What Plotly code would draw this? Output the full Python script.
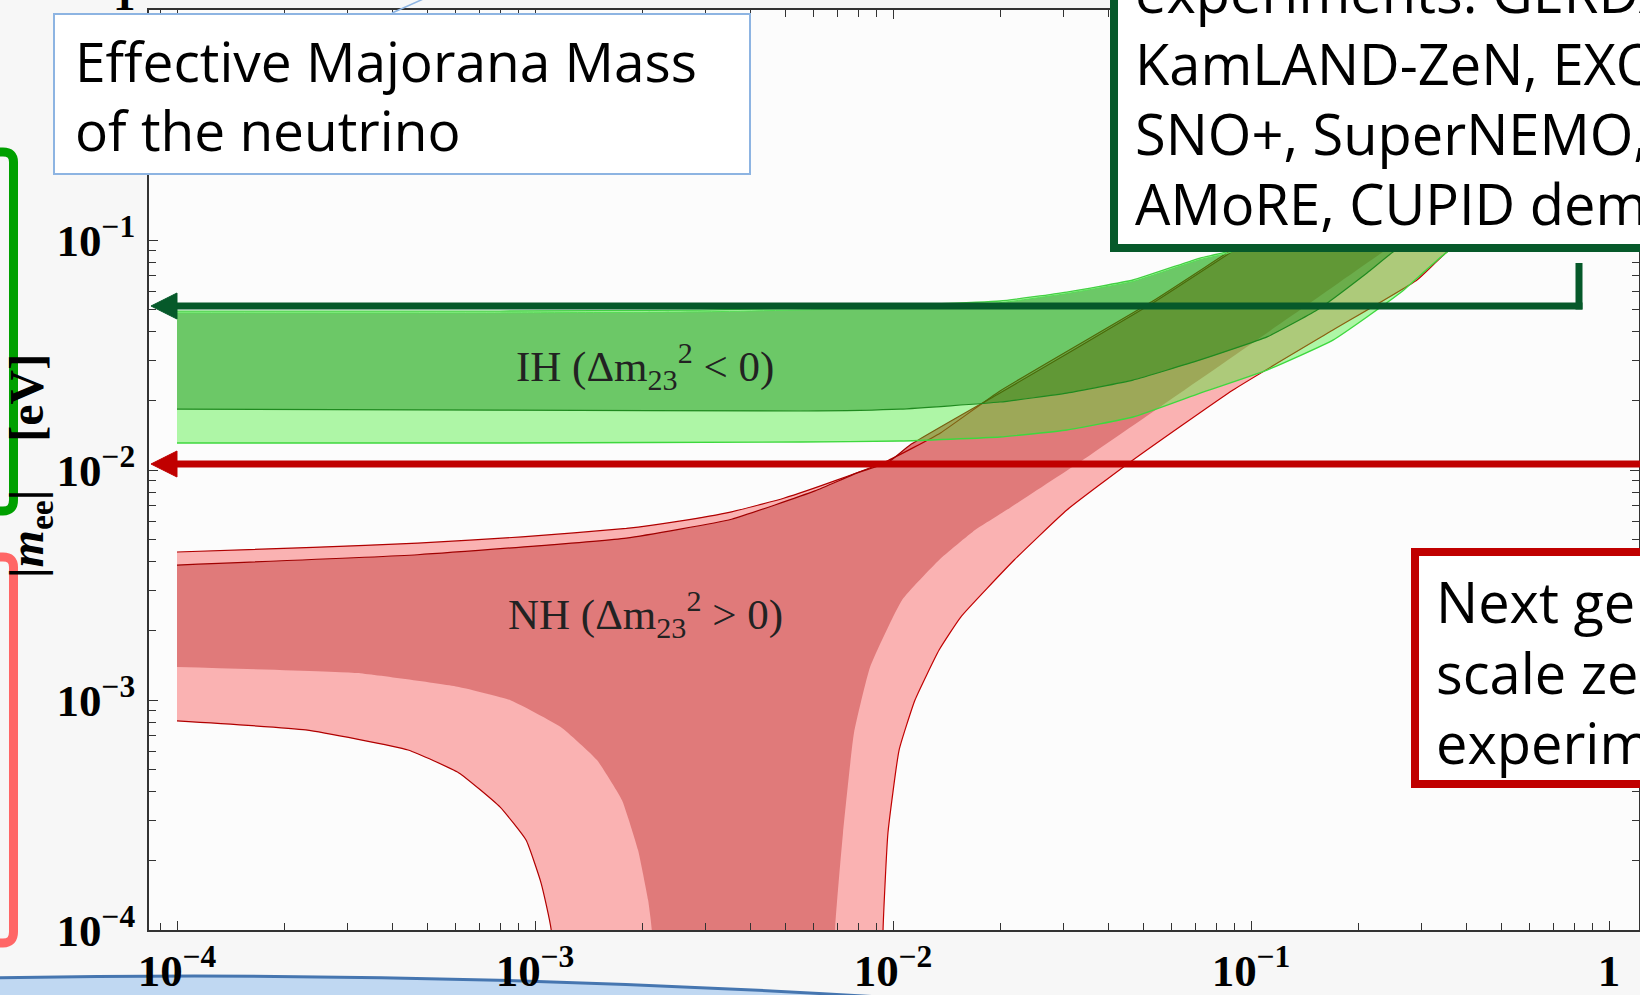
import plotly.graph_objects as go

# ---------------- data (lightest mass m [eV] vs |m_ee| [eV]) ----------------
# Normal hierarchy, outer (light) band
nh_light_upper_m   = [1.0e-4, 2.40e-4, 4.70e-4, 9.2e-4, 1.80e-3, 2.53e-3, 3.54e-3, 4.95e-3, 6.93e-3, 9.69e-3,
                      1.357e-2, 1.99e-2, 5.32e-2, 8.91e-2, 1.3]
nh_light_upper_mee = [4.40e-3, 4.61e-3, 4.81e-3, 5.12e-3, 5.57e-3, 5.99e-3, 6.58e-3, 7.54e-3, 9.01e-3, 1.10e-2,
                      1.45e-2, 2.206e-2, 5.43e-2, 9.14e-2, 1.3]
nh_light_lowL_m    = [1.0e-4, 2.29e-4, 4.42e-4, 6.13e-4, 7.98e-4, 9.44e-4, 1.04e-3, 1.11e-3, 1.13e-3]
nh_light_lowL_mee  = [8.11e-4, 7.41e-4, 6.06e-4, 4.82e-4, 3.43e-4, 2.46e-4, 1.60e-4, 1.0e-4, 1.0e-5]
nh_light_lowR_m    = [9.30e-3, 9.38e-3, 9.68e-3, 1.04e-2, 1.152e-2, 1.345e-2, 1.548e-2, 2.18e-2, 3.06e-2,
                      4.68e-2, 8.91e-2, 1.694e-1, 2.909e-1, 3.527e-1, 1.3]
nh_light_lowR_mee  = [1.0e-5, 1.0e-4, 2.64e-4, 6.06e-4, 1.0e-3, 1.65e-3, 2.30e-3, 4.06e-3, 6.70e-3,
                      1.105e-2, 2.228e-2, 4.06e-2, 6.70e-2, 8.86e-2, 0.32]
# Normal hierarchy, inner (dark) band
nh_dark_upper_m    = [1.0e-4, 4.70e-4, 1.80e-3, 3.54e-3, 6.05e-3, 7.92e-3, 9.69e-3, 1.116e-2, 1.99e-2, 5.32e-2,
                      8.91e-2, 1.3]
nh_dark_upper_mee  = [3.86e-3, 4.28e-3, 5.06e-3, 6.11e-3, 8.11e-3, 9.69e-3, 1.08e-2, 1.284e-2, 2.162e-2, 5.32e-2,
                      8.96e-2, 1.29]
nh_dark_lowL_m     = [1.0e-4, 3.18e-4, 6.13e-4, 8.51e-4, 1.18e-3, 1.49e-3, 1.75e-3, 1.94e-3, 2.07e-3, 2.12e-3, 2.14e-3]
nh_dark_lowL_mee   = [1.39e-3, 1.31e-3, 1.14e-3, 1.0e-3, 7.63e-4, 5.48e-4, 3.67e-4, 2.23e-4, 1.35e-4, 1.0e-4, 1.0e-5]
nh_dark_lowR_m     = [6.85e-3, 6.89e-3, 7.25e-3, 7.78e-3, 8.63e-3, 1.06e-2, 1.345e-2, 1.695e-2, 2.12e-2, 3.39e-2,
                      1.37e-1, 2.337e-1, 1.3]
nh_dark_lowR_mee   = [1.0e-5, 1.0e-4, 2.64e-4, 7.18e-4, 1.39e-3, 2.72e-3, 4.06e-3, 5.48e-3, 6.84e-3, 1.105e-2,
                      4.96e-2, 8.86e-2, 0.48]
# Inverted hierarchy
ih_upper_m         = [1.0e-4, 7.98e-4, 2.89e-3, 7.58e-3, 1.99e-2, 3.06e-2, 4.68e-2, 7.21e-2, 8.91e-2, 1.3]
ih_light_upper_mee = [4.91e-2, 4.91e-2, 4.96e-2, 5.11e-2, 5.43e-2, 5.94e-2, 6.70e-2, 8.35e-2, 9.05e-2, 1.3]
ih_dark_upper_mee  = [4.82e-2, 4.82e-2, 4.87e-2, 5.02e-2, 5.34e-2, 5.85e-2, 6.60e-2, 8.22e-2, 8.92e-2, 1.29]
ih_dark_lower_m    = [1.0e-4, 7.98e-4, 5.5e-3, 1.046e-2, 1.99e-2, 3.06e-2, 4.68e-2, 7.21e-2, 1.109e-1, 1.529e-1,
                      2.109e-1, 2.492e-1, 1.3]
ih_dark_lower_mee  = [1.84e-2, 1.82e-2, 1.805e-2, 1.84e-2, 1.975e-2, 2.16e-2, 2.46e-2, 3.01e-2, 3.79e-2, 4.96e-2,
                      7.19e-2, 8.86e-2, 0.46]
ih_light_lower_m   = [1.0e-4, 7.98e-4, 5.5e-3, 1.046e-2, 1.99e-2, 3.06e-2, 4.68e-2, 7.21e-2, 1.109e-1, 1.694e-1,
                      2.608e-1, 3.527e-1, 1.3]
ih_light_lower_mee = [1.31e-2, 1.31e-2, 1.324e-2, 1.337e-2, 1.391e-2, 1.493e-2, 1.70e-2, 2.16e-2, 2.72e-2, 3.67e-2,
                      5.88e-2, 8.86e-2, 0.32]

tick_vals = [1e-4, 1e-3, 1e-2, 1e-1, 1]
tick_text = ["10<sup>\u22124</sup>", "10<sup>\u22123</sup>", "10<sup>\u22122</sup>", "10<sup>\u22121</sup>", "1"]

# ---------------- layout helpers ----------------
W, H = 1640, 995
ML, MR, MT, MB = 149, 1, 10, 65
PW, PH = W - ML - MR, H - MT - MB


def px(x):
    return (x - ML) / PW


def py(y):
    return (H - MB - y) / PH


def P(x, y):
    return f"{px(x):.5f},{py(y):.5f}"


def path(pts, close=False):
    s = "M " + " L ".join(P(x, y) for x, y in pts)
    return s + (" Z" if close else "")


fig = go.Figure()


def band(xu, yu, xl, yl, color):
    fig.add_trace(go.Scatter(x=list(xu) + list(xl)[::-1], y=list(yu) + list(yl)[::-1],
                             mode="lines", fill="toself", fillcolor=color,
                             line=dict(width=0, shape="spline", smoothing=0.4),
                             hoverinfo="skip", showlegend=False))


def edge(x, y, color, w=1.2):
    fig.add_trace(go.Scatter(x=x, y=y, mode="lines",
                             line=dict(color=color, width=w, shape="spline", smoothing=0.4),
                             hoverinfo="skip", showlegend=False))


# NH bands
band(nh_light_upper_m, nh_light_upper_mee,
     nh_light_lowL_m + nh_light_lowR_m, nh_light_lowL_mee + nh_light_lowR_mee, "rgb(250,178,178)")
band(nh_dark_upper_m, nh_dark_upper_mee,
     nh_dark_lowL_m + nh_dark_lowR_m, nh_dark_lowL_mee + nh_dark_lowR_mee, "rgb(224,122,122)")
edge(nh_light_upper_m, nh_light_upper_mee, "#b00000")
edge(nh_dark_upper_m, nh_dark_upper_mee, "#a00000")
edge(nh_light_lowL_m, nh_light_lowL_mee, "#b00000")
edge(nh_light_lowR_m, nh_light_lowR_mee, "#c00000")

# IH bands (translucent over NH)
band(ih_upper_m, ih_light_upper_mee, ih_light_lower_m, ih_light_lower_mee, "rgba(57,237,37,0.40)")
band(ih_upper_m, ih_dark_upper_mee, ih_dark_lower_m, ih_dark_lower_mee, "rgba(0,125,0,0.38)")
edge(ih_upper_m, ih_light_upper_mee, "#44d044", 1.3)
edge(ih_upper_m, ih_dark_upper_mee, "#55dd55", 1.0)
edge(ih_dark_lower_m, ih_dark_lower_mee, "#1f8a1f", 1.2)
edge(ih_light_lower_m, ih_light_lower_mee, "#3ed83e", 1.4)

tickfont = dict(family="Liberation Serif", size=45, color="black", weight="bold")
axis_common = dict(type="log", showgrid=False, zeroline=False, showline=True, linecolor="#333",
                   linewidth=1.5, mirror="ticks", ticks="inside", ticklen=9, tickwidth=1.4,
                   tickcolor="#333", tickmode="array", tickvals=tick_vals, ticktext=tick_text,
                   tickfont=tickfont, automargin=False,
                   minor=dict(ticks="inside", ticklen=7, tickwidth=1.2, tickcolor="#333", dtick="D1",
                              showgrid=False))

fig.update_xaxes(range=[-4.0782, 0.0838], ticklabelstandoff=0, **axis_common)
fig.update_yaxes(range=[-4, 0], ticklabelstandoff=3, **axis_common)

shapes = []
# bottom light-blue blob
shapes.append(dict(type="path", xref="paper", yref="paper", layer="below",
                   path=f"M {P(-60, 979)} Q {P(400, 968)} {P(880, 997)} L {P(880, 1100)} L {P(-60, 1100)} Z",
                   fillcolor="rgb(192,216,242)", line=dict(color="rgb(70,118,176)", width=3)))
# left green rounded box
shapes.append(dict(type="path", xref="paper", yref="paper", layer="above",
                   path=f"M {P(-60, 152)} L {P(3, 152)} Q {P(13.5, 152)} {P(13.5, 162)} "
                        f"L {P(13.5, 500)} Q {P(13.5, 511)} {P(3, 511)} L {P(-60, 511)}",
                   line=dict(color="#00a000", width=9)))
# left pink rounded box
shapes.append(dict(type="path", xref="paper", yref="paper", layer="above",
                   path=f"M {P(-60, 557)} L {P(3, 557)} Q {P(13.5, 557)} {P(13.5, 567)} "
                        f"L {P(13.5, 932)} Q {P(13.5, 943)} {P(3, 943)} L {P(-60, 943)}",
                   line=dict(color="#ff6666", width=9)))
# arrows
GREEN_D = "#06592a"
RED_D = "#c00000"
shapes.append(dict(type="path", xref="paper", yref="paper", layer="above",
                   path=path([(1579, 263), (1579, 309.5)]), line=dict(color=GREEN_D, width=7)))
shapes.append(dict(type="path", xref="paper", yref="paper", layer="above",
                   path=path([(1582.5, 306), (172, 306)]), line=dict(color=GREEN_D, width=7)))
shapes.append(dict(type="path", xref="paper", yref="paper", layer="above",
                   path=path([(151, 306), (177, 293), (177, 319)], close=True),
                   fillcolor=GREEN_D, line=dict(color=GREEN_D, width=1)))
shapes.append(dict(type="path", xref="paper", yref="paper", layer="above",
                   path=path([(1660, 464), (172, 464)]), line=dict(color=RED_D, width=7)))
shapes.append(dict(type="path", xref="paper", yref="paper", layer="above",
                   path=path([(151, 464), (177, 451), (177, 477)], close=True),
                   fillcolor=RED_D, line=dict(color=RED_D, width=1)))
# text boxes
shapes.append(dict(type="rect", xref="paper", yref="paper", layer="above",
                   x0=px(54), x1=px(750), y0=py(14), y1=py(174),
                   fillcolor="white", line=dict(color="#8db4e2", width=2)))
shapes.append(dict(type="path", xref="paper", yref="paper", layer="above",
                   path=path([(392, 13), (430, -4)]), line=dict(color="#8db4e2", width=1.5)))
shapes.append(dict(type="rect", xref="paper", yref="paper", layer="above",
                   x0=px(1114), x1=px(1700), y0=py(-40), y1=py(248),
                   fillcolor="white", line=dict(color=GREEN_D, width=8)))
shapes.append(dict(type="rect", xref="paper", yref="paper", layer="above",
                   x0=px(1415), x1=px(1700), y0=py(552), y1=py(784),
                   fillcolor="white", line=dict(color=RED_D, width=8)))

annotations = []


def txt(x, ytop, s, size=56, family="Open Sans"):
    annotations.append(dict(xref="paper", yref="paper", x=px(x), y=py(ytop), xanchor="left",
                            yanchor="top", text=s, showarrow=False, align="left",
                            font=dict(family=family, size=size, color="black")))


txt(73, 21, "Effective Majorana Mass", 55)
txt(73, 90, "of the neutrino", 55)
txt(1133, -49, "experiments: GERDA, MAJORANA,")
txt(1133, 23, "KamLAND-ZeN, EXO-200,")
txt(1133, 93, "SNO+, SuperNEMO,")
txt(1133, 163, "AMoRE, CUPID demonstrators")
txt(1434, 561, "Next generation ton-")
txt(1434, 632, "scale zero-background")
txt(1434, 702, "experiments")

# y tick label "1" at the very top (partly cut at the page edge)
annotations.append(dict(xref="paper", yref="paper", x=px(138), y=py(-5), xanchor="right",
                        yanchor="middle", showarrow=False, text="1",
                        font=dict(family="Liberation Serif", size=45, color="black", weight="bold")))

annotations.append(dict(xref="paper", yref="paper", x=px(645), y=py(366), xanchor="center",
                        yanchor="middle", showarrow=False,
                        text="IH (\u0394m<sub>23</sub><sup>2</sup> &lt; 0)",
                        font=dict(family="Liberation Serif", size=43, color="#222")))
annotations.append(dict(xref="paper", yref="paper", x=px(645), y=py(614), xanchor="center",
                        yanchor="middle", showarrow=False,
                        text="NH (\u0394m<sub>23</sub><sup>2</sup> &gt; 0)",
                        font=dict(family="Liberation Serif", size=43, color="#222")))
annotations.append(dict(xref="paper", yref="paper", x=px(30), y=py(466), xanchor="center",
                        yanchor="middle", showarrow=False, textangle=-90,
                        text="|<i>m</i><sub>ee</sub>|\u2003[eV]",
                        font=dict(family="Liberation Serif", size=48, color="black", weight="bold")))

fig.update_layout(width=W, height=H, margin=dict(l=ML, r=MR, t=MT, b=MB, pad=0, autoexpand=False),
                  paper_bgcolor="#f7f7f7", plot_bgcolor="#fcfcfc",
                  shapes=shapes, annotations=annotations, showlegend=False)

fig.write_html("out.html")
